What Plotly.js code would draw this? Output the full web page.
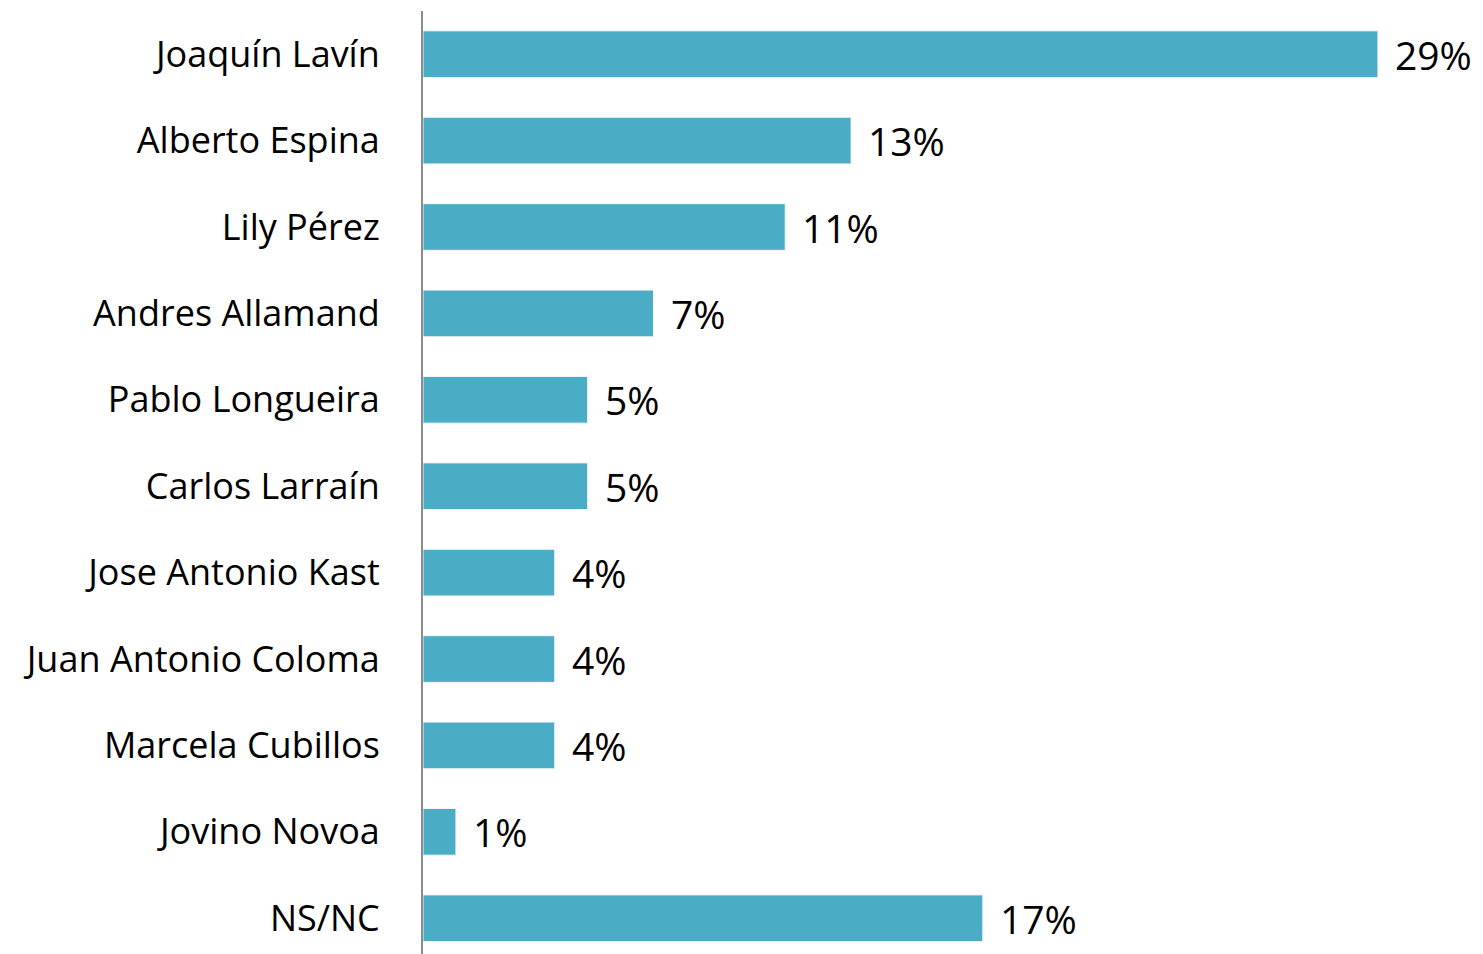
<!DOCTYPE html>
<html>
<head>
<meta charset="utf-8">
<script src="https://cdn.plot.ly/plotly-3.0.1.min.js"></script>
<style>html,body{margin:0;padding:0;background:#fff;}#chart{width:1483px;height:954px;}</style>
</head>
<body>
<div id="chart"></div>
<script>
const categories = ["Joaquín Lavín","Alberto Espina","Lily Pérez","Andres Allamand","Pablo Longueira","Carlos Larraín","Jose Antonio Kast","Juan Antonio Coloma","Marcela Cubillos","Jovino Novoa","NS/NC"];
const values = [29,13,11,7,5,5,4,4,4,1,17];
const valueLabels = values.map(v => v + "%");

const FONT = "'Open Sans', Lato, sans-serif";

const trace = {
  type: "bar",
  orientation: "h",
  y: categories,
  x: values,
  marker: {color: "#4BACC6", line: {color: "#f4f4f4", width: 1}},
  hoverinfo: "none"
};

const annotations = categories.map((c, i) => ({
  x: values[i], y: c, xref: "x", yref: "y",
  text: valueLabels[i], showarrow: false,
  xanchor: "left", xshift: 15,
  font: {family: FONT, size: 39, color: "#000"}
}));

const layout = {
  width: 1483, height: 954,
  margin: {l: 423, r: 0, t: 11, b: 0},
  paper_bgcolor: "#fff", plot_bgcolor: "#fff",
  showlegend: false,
  bargap: 0.46,
  xaxis: {range: [0, 32.19], showgrid: false, zeroline: false, showticklabels: false, showline: false, fixedrange: true},
  yaxis: {
    type: "category", range: [10.414, -0.5], autorange: false,
    showgrid: false, zeroline: false,
    showline: true, linecolor: "#8c8c8c", linewidth: 2,
    ticks: "", ticklabelstandoff: 34,
    tickfont: {family: FONT, size: 36, color: "#000"}
  },
  annotations: annotations
};

Plotly.newPlot("chart", [trace], layout, {displayModeBar: false, staticPlot: true});
</script>
</body>
</html>
